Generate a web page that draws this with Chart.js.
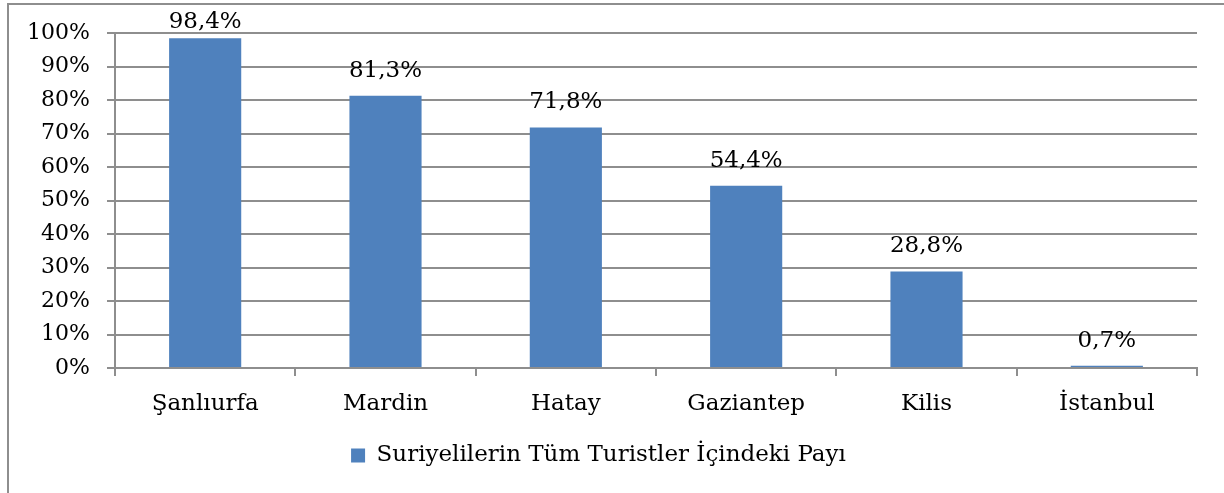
<!DOCTYPE html>
<html>
<head>
<meta charset="utf-8">
<script src="https://cdn.jsdelivr.net/npm/chart.js@4/dist/chart.umd.min.js"></script>
<style>
    body { margin: 0; background: #fff; }
    #wrap { width: 1224px; height: 493px; position: relative; }
</style>
</head>
<body>
<div id="wrap"><canvas id="graphique"></canvas></div>
<script>
const categories = ["Şanlıurfa", "Mardin", "Hatay", "Gaziantep", "Kilis", "İstanbul"]
const payi = [98.4, 81.3, 71.8, 54.4, 28.8, 0.7]
const serieNom = "Suriyelilerin Tüm Turistler İçindeki Payı"
const yTicks = [0, 10, 20, 30, 40, 50, 60, 70, 80, 90, 100]

const police = "'DejaVu Serif', Georgia, serif"
const gris = "#8e8e8e"

// cadre gris autour du graphique
const cadre = {
    id: "cadre",
    beforeDraw(chart) {
        const ctx = chart.ctx
        ctx.save()
        ctx.strokeStyle = gris
        ctx.lineWidth = 2
        ctx.strokeRect(8, 4, 1240, 500)
        ctx.restore()
    }
}

// étiquettes de valeur au-dessus des barres
const etiquettes = {
    id: "etiquettes",
    afterDatasetsDraw(chart) {
        const ctx = chart.ctx
        const meta = chart.getDatasetMeta(0)
        ctx.save()
        ctx.font = "23px " + police
        ctx.fillStyle = "#000"
        ctx.textAlign = "center"
        ctx.textBaseline = "middle"
        meta.data.forEach((bar, i) => {
            const texte = payi[i].toFixed(1).replace(".", ",") + "%"
            const y = Math.max(bar.y - 25, 22)
            ctx.fillText(texte, bar.x, y)
        })
        ctx.restore()
    }
}

const data = {
    labels: categories,
    datasets: [{
        label: serieNom,
        data: payi,
        backgroundColor: "#4f81bd",
        barPercentage: 0.4,
        categoryPercentage: 1
    }]
}

const config = {
    type: "bar",
    data: data,
    plugins: [cadre, etiquettes],
    options: {
        responsive: false,
        animation: false,
        layout: { padding: { top: 33, right: 27, bottom: 16, left: 0 } },
        plugins: {
            legend: {
                position: "bottom",
                labels: {
                    color: "#000",
                    font: { family: police, size: 23 },
                    boxWidth: 14,
                    boxHeight: 14,
                    padding: 10
                }
            },
            tooltip: { enabled: false }
        },
        scales: {
            x: {
                grid: {
                    offset: true,
                    drawOnChartArea: false,
                    drawTicks: true,
                    tickLength: 8,
                    color: gris,
                    lineWidth: 2
                },
                border: { color: gris, width: 2 },
                ticks: {
                    color: "#000",
                    padding: 14,
                    font: { family: police, size: 23 }
                },
                afterFit(scale) { scale.height = 66 }
            },
            y: {
                min: 0,
                max: 100,
                afterBuildTicks(scale) {
                    scale.ticks = yTicks.map(v => ({ value: v }))
                },
                grid: {
                    color: gris,
                    lineWidth: 2,
                    tickLength: 8
                },
                border: { color: gris, width: 2 },
                ticks: {
                    color: "#000",
                    padding: 17,
                    font: { family: police, size: 22 },
                    callback: v => v + "%"
                },
                afterFit(scale) { scale.width = 115 }
            }
        }
    }
}

const canvas = document.querySelector("#graphique")
canvas.width = 1224
canvas.height = 493
new Chart(canvas, config)
</script>
</body>
</html>
